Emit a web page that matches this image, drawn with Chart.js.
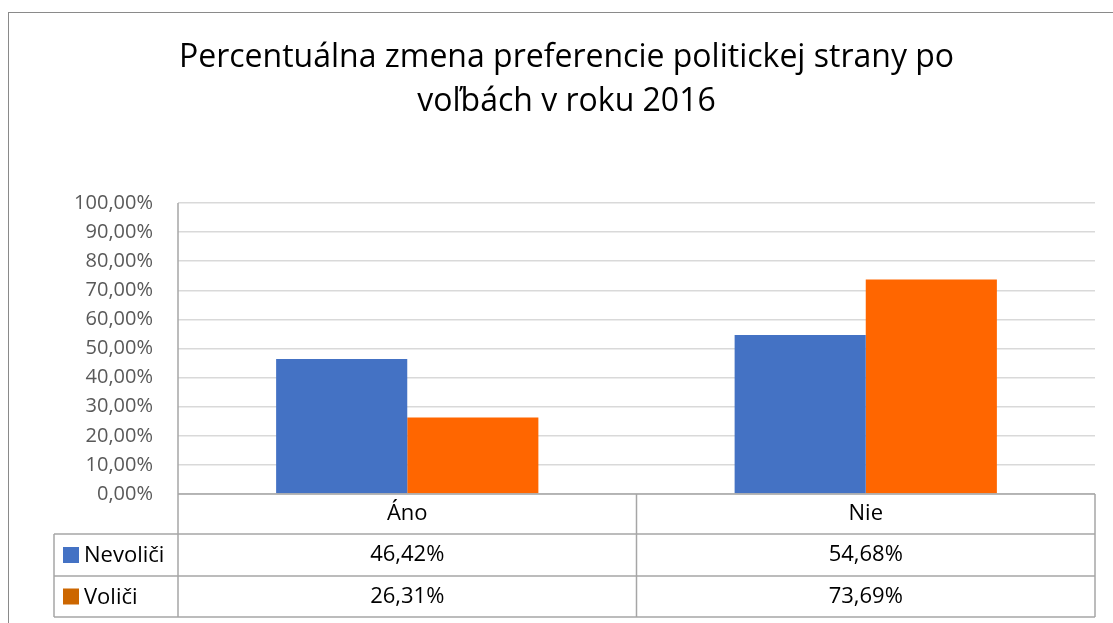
<!DOCTYPE html>
<html lang="sk">
<head>
<meta charset="utf-8">
<title>Percentuálna zmena preferencie politickej strany</title>
<script src="https://cdn.jsdelivr.net/npm/chart.js@4/dist/chart.umd.min.js"></script>
<style>
  html, body { margin: 0; padding: 0; background: #fff; overflow: hidden; }
  #wrap { position: relative; width: 1113px; height: 623px; }
  #frame {
    position: absolute; left: 8px; top: 12px; width: 1200px; height: 700px;
    border: 1px solid #8a8a8a; box-sizing: border-box;
  }
  #chart { position: absolute; left: 0; top: 0; }
</style>
</head>
<body>
<div id="wrap">
  <div id="frame"></div>
  <canvas id="chart" width="1113" height="623"></canvas>
</div>
<script>
// --- data ---
const titleLines = ["Percentuálna zmena preferencie politickej strany po", "voľbách v roku 2016"];
const categories = ["Áno", "Nie"];
const seriesNames = ["Nevoliči", "Voliči"];
const nevolici = [46.42, 54.68];
const volici = [26.31, 73.69];
const yTicks = [0, 10, 20, 30, 40, 50, 60, 70, 80, 90, 100];

// --- styles ---
const barColors = ["#4472C4", "#FF6600"];
const swatchColors = ["#4472C4", "#CC6600"];
const FONT = "'Open Sans', 'Noto Sans', sans-serif";
const TABLE_LINE = "#a6a6a6";
const ROW_H = [40, 42, 41]; // header row, then one row per series

function fmtPct(v) {
  return v.toFixed(2).replace(".", ",") + "%";
}

/* data table under the plot, laid out from the chart's own x scale */
const dataTablePlugin = {
  id: "dataTable",
  afterDraw(chart) {
    const ctx = chart.ctx;
    const area = chart.chartArea;
    const x = chart.scales.x;
    const rows = [nevolici, volici];

    const colEdges = [area.left];
    for (let i = 0; i < categories.length - 1; i++) {
      colEdges.push((x.getPixelForValue(i) + x.getPixelForValue(i + 1)) / 2);
    }
    colEdges.push(area.right);

    const legendLeft = 54;
    const rowTops = [area.bottom];
    ROW_H.forEach(h => rowTops.push(rowTops[rowTops.length - 1] + h));
    const tableBottom = rowTops[rowTops.length - 1];

    ctx.save();
    ctx.strokeStyle = TABLE_LINE;
    ctx.lineWidth = 1.5;
    ctx.beginPath();
    // zero line / top of category row
    ctx.moveTo(area.left, area.bottom);
    ctx.lineTo(area.right, area.bottom);
    for (let r = 1; r < rowTops.length; r++) {
      ctx.moveTo(legendLeft, rowTops[r]);
      ctx.lineTo(area.right, rowTops[r]);
    }
    // vertical lines
    ctx.moveTo(area.left, area.top);
    ctx.lineTo(area.left, tableBottom);
    colEdges.slice(1).forEach(cx => {
      ctx.moveTo(cx, area.bottom);
      ctx.lineTo(cx, tableBottom);
    });
    ctx.moveTo(legendLeft, rowTops[1]);
    ctx.lineTo(legendLeft, tableBottom);
    ctx.stroke();

    ctx.textBaseline = "middle";
    ctx.font = "22px " + FONT;
    ctx.fillStyle = "#000";
    ctx.textAlign = "center";
    categories.forEach((c, i) => {
      const cx = x.getPixelForValue(i);
      ctx.fillText(c, cx, (rowTops[0] + rowTops[1]) / 2);
      rows.forEach((vals, r) => {
        ctx.fillText(fmtPct(vals[i]), cx, (rowTops[r + 1] + rowTops[r + 2]) / 2);
      });
    });

    ctx.textAlign = "left";
    seriesNames.forEach((name, r) => {
      const cy = (rowTops[r + 1] + rowTops[r + 2]) / 2;
      ctx.fillStyle = swatchColors[r];
      ctx.fillRect(63, cy - 8, 16, 16);
      ctx.fillStyle = "#000";
      ctx.fillText(name, 84, cy + 1);
    });
    ctx.restore();
  }
};

new Chart(document.getElementById("chart"), {
  type: "bar",
  data: {
    labels: categories,
    datasets: [
      { label: seriesNames[0], data: nevolici, backgroundColor: barColors[0] },
      { label: seriesNames[1], data: volici, backgroundColor: barColors[1] }
    ]
  },
  options: {
    responsive: false,
    animation: false,
    categoryPercentage: 0.572,
    barPercentage: 1,
    layout: { padding: { left: 38, right: 18, top: 0, bottom: 129 } },
    plugins: {
      legend: { display: false },
      tooltip: { enabled: false },
      title: {
        display: true,
        text: titleLines,
        color: "#000",
        font: { family: FONT, size: 32, weight: "normal", lineHeight: 1.375 },
        padding: { top: 36, bottom: 79 }
      }
    },
    scales: {
      x: { display: false },
      y: {
        min: 0,
        max: 100,
        afterFit(scale) { scale.width = 140; },
        afterBuildTicks(scale) { scale.ticks = yTicks.map(v => ({ value: v })); },
        ticks: {
          color: "#595959",
          font: { family: FONT, size: 20 },
          padding: 25,
          callback: v => fmtPct(v)
        },
        grid: { color: "#d9d9d9", lineWidth: 1.5, drawTicks: false },
        border: { display: false }
      }
    }
  },
  plugins: [dataTablePlugin]
});
</script>
</body>
</html>
